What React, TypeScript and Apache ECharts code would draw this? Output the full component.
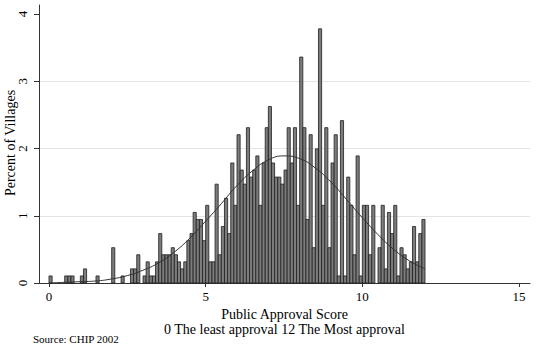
import React, { useEffect, useRef } from "react";
import * as echarts from "echarts";

// Histogram: bins of width 0.1 starting at 0 (score 0..12), percent of villages per bin
const binWidth = 0.1;
const binStartValue = 0;
const percentOfVillages = [
  0.105, 0, 0, 0, 0, 0.105, 0.105, 0.105, 0, 0,
  0.105, 0.21, 0, 0, 0, 0.105, 0, 0, 0, 0,
  0.525, 0, 0, 0.105, 0, 0, 0.21, 0.21, 0.42, 0,
  0.105, 0.315, 0.105, 0.105, 0.315, 0.735, 0.42, 0.42, 0.42, 0.525,
  0.42, 0.315, 0.21, 0.315, 0.63, 0.735, 1.05, 0.945, 0.945, 0.63,
  1.155, 0.315, 0.315, 1.47, 0.42, 0.84, 1.26, 0.735, 1.785, 1.155,
  2.205, 1.68, 1.47, 2.31, 1.575, 1.68, 1.89, 1.155, 1.785, 2.31,
  2.625, 1.785, 1.575, 1.575, 1.47, 1.68, 2.31, 1.785, 2.31, 1.155,
  3.36, 2.31, 0.945, 2.205, 0.525, 1.995, 3.78, 1.155, 2.31, 0.525,
  1.785, 2.205, 0.105, 2.415, 0.105, 1.575, 1.155, 0.42, 1.89, 0.105,
  1.155, 1.155, 0.42, 1.155, 0, 0.525, 1.155, 0.21, 1.05, 0.735,
  1.155, 0.105, 0.525, 0.42, 0.21, 0.315, 0.84, 0.315, 0.735, 0.945,
];

// Normal density overlay
const curveX = [0, 0.5, 1, 1.5, 2, 2.5, 3, 3.5, 4, 4.5, 5, 5.5, 6, 6.5, 7, 7.5, 8, 8.5, 9, 9.5, 10, 10.5, 11, 11.5, 12];
const curveY = [0.0, 0.01, 0.02, 0.03, 0.06, 0.11, 0.19, 0.3, 0.46, 0.67, 0.92, 1.18, 1.45, 1.67, 1.83, 1.89, 1.85, 1.71, 1.5, 1.24, 0.97, 0.72, 0.5, 0.33, 0.21];

const xTickValues = [0, 5, 10, 15];
const yTickValues = [0, 1, 2, 3, 4];
const xTitle = "Public Approval Score";
const xSubtitle = "0 The least approval 12 The Most approval";
const yTitle = "Percent of Villages";
const sourceNote = "Source: CHIP 2002";

export default function App() {
  const ref = useRef<HTMLDivElement>(null);
  useEffect(() => {
    if (!ref.current) return;
    const chart = echarts.init(ref.current, null, { renderer: "svg" });
    const font = "'Liberation Serif', 'Times New Roman', serif";
    const barData = percentOfVillages.map((v, i) => [
      binStartValue + i * binWidth,
      binStartValue + (i + 1) * binWidth,
      v,
    ]);
    chart.setOption({
      animation: false,
      backgroundColor: "#ffffff",
      grid: { left: 39, right: 20, top: 5, bottom: 78, containLabel: false, outerBoundsMode: "none" },
      xAxis: {
        type: "value",
        min: -0.319,
        max: 15.35,
        axisLine: { show: true, onZero: false, lineStyle: { color: "#333", width: 1 } },
        axisTick: { show: true, length: 4, customValues: xTickValues, lineStyle: { color: "#333" } },
        axisLabel: { customValues: xTickValues, margin: 7, fontSize: 13, fontFamily: font, color: "#000" },
        splitLine: { show: false },
        name: xTitle + "\n" + xSubtitle,
        nameLocation: "middle",
        nameGap: 24,
        nameMoveOverlap: false,
        nameTextStyle: { fontSize: 14, lineHeight: 15, fontFamily: font, color: "#000" },
      },
      yAxis: {
        type: "value",
        min: 0,
        max: 4.134,
        interval: 1,
        axisLine: { show: true, onZero: false, lineStyle: { color: "#333", width: 1 } },
        axisTick: { show: true, length: 5, customValues: yTickValues, lineStyle: { color: "#333" } },
        axisLabel: { customValues: yTickValues, rotate: 90, margin: 10, fontSize: 13, fontFamily: font, color: "#000" },
        splitLine: { show: true, showMinLine: false, showMaxLine: false, lineStyle: { color: "#e4e4e4", width: 1 } },
      },
      series: [
        {
          type: "custom",
          data: barData,
          encode: { x: [0, 1], y: 2 },
          renderItem: (params: any, api: any) => {
            const v = api.value(2);
            if (!v) return null;
            const s = api.coord([api.value(0), 0]);
            const e = api.coord([api.value(1), v]);
            return {
              type: "rect",
              shape: { x: s[0], y: e[1], width: e[0] - s[0], height: s[1] - e[1] },
              style: { fill: "#7c7c7c", stroke: "#1e1e1e", lineWidth: 0.8 },
            };
          },
          z: 2,
        },
        {
          type: "line",
          data: curveX.map((x, i) => [x, curveY[i]]),
          smooth: true,
          showSymbol: false,
          symbol: "none",
          lineStyle: { color: "#333", width: 1 },
          z: 3,
        },
      ],
      graphic: [
        {
          type: "text",
          x: 10,
          y: 143,
          rotation: Math.PI / 2,
          style: {
            text: yTitle,
            fontSize: 14,
            fontFamily: font,
            fill: "#000",
            textAlign: "center",
            textVerticalAlign: "middle",
          },
        },
        {
          type: "text",
          left: 33,
          top: 333,
          style: { text: sourceNote, fontSize: 11, fontFamily: font, fill: "#000" },
        },
      ],
    });
    return () => chart.dispose();
  }, []);
  return (
    <div
      ref={ref}
      style={{ position: "absolute", left: 0, top: 0, width: 550, height: 361 }}
    />
  );
}
